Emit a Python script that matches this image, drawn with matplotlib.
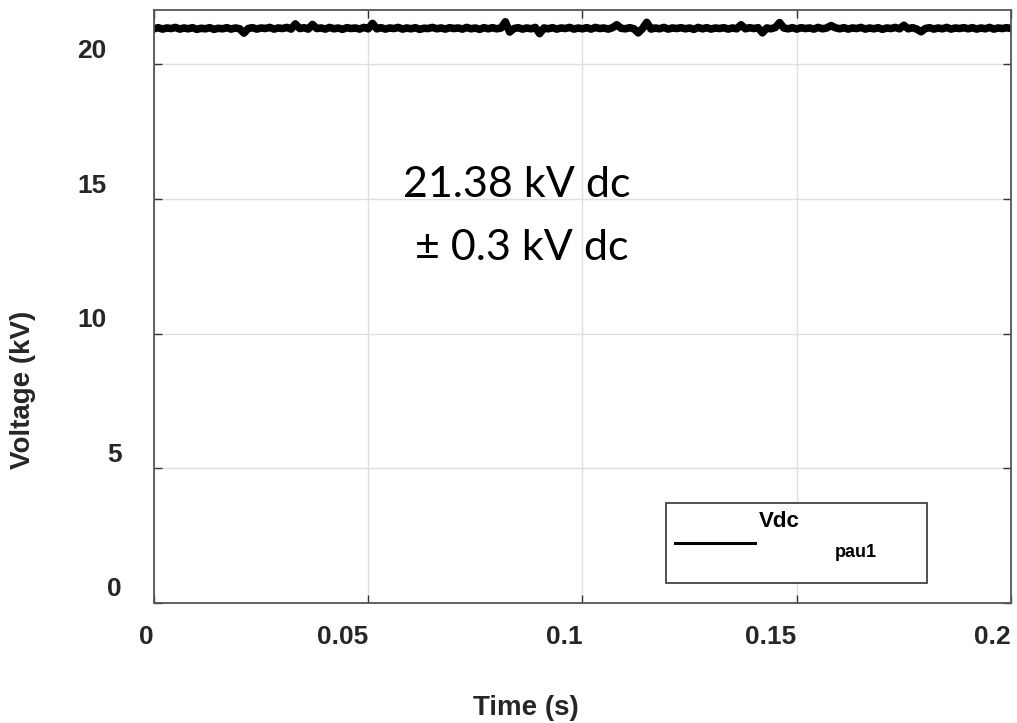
import numpy as np
import matplotlib
matplotlib.use('Agg')
from matplotlib import pyplot as plt
import matplotlib.transforms as mtransforms
from matplotlib.patches import Rectangle
from matplotlib.lines import Line2D

plt.rcParams['font.family'] = ['Liberation Sans', 'DejaVu Sans']

# dc link voltage (kV), one sample per ms
vdc = [21.32, 21.36, 21.31, 21.35, 21.33, 21.37, 21.31, 21.35, 21.32, 21.36,
       21.30, 21.34, 21.32, 21.36, 21.30, 21.34, 21.32, 21.36, 21.31, 21.35,
       21.32, 21.16, 21.33, 21.36, 21.31, 21.35, 21.33, 21.37, 21.31, 21.35,
       21.33, 21.37, 21.31, 21.50, 21.33, 21.36, 21.31, 21.48, 21.33, 21.35,
       21.31, 21.37, 21.32, 21.35, 21.30, 21.36, 21.33, 21.35, 21.31, 21.37,
       21.32, 21.52, 21.32, 21.36, 21.31, 21.35, 21.33, 21.37, 21.31, 21.35,
       21.32, 21.36, 21.30, 21.34, 21.33, 21.37, 21.32, 21.35, 21.31, 21.36,
       21.33, 21.35, 21.31, 21.37, 21.32, 21.35, 21.30, 21.36, 21.32, 21.36,
       21.32, 21.35, 21.58, 21.20, 21.33, 21.36, 21.31, 21.35, 21.32, 21.37,
       21.14, 21.35, 21.32, 21.36, 21.31, 21.35, 21.33, 21.37, 21.31, 21.35,
       21.32, 21.36, 21.31, 21.37, 21.33, 21.35, 21.31, 21.36, 21.47, 21.34,
       21.32, 21.36, 21.32, 21.17, 21.33, 21.56, 21.31, 21.35, 21.32, 21.37,
       21.31, 21.35, 21.33, 21.36, 21.32, 21.35, 21.30, 21.37, 21.32, 21.36,
       21.31, 21.35, 21.33, 21.36, 21.31, 21.35, 21.32, 21.47, 21.32, 21.36,
       21.33, 21.36, 21.17, 21.35, 21.32, 21.37, 21.55, 21.35, 21.32, 21.36,
       21.31, 21.36, 21.33, 21.35, 21.31, 21.37, 21.32, 21.35, 21.44, 21.36,
       21.32, 21.36, 21.31, 21.35, 21.33, 21.37, 21.31, 21.35, 21.32, 21.36,
       21.30, 21.35, 21.33, 21.37, 21.32, 21.45, 21.32, 21.36, 21.31, 21.21,
       21.33, 21.36, 21.31, 21.35, 21.32, 21.37, 21.31, 21.35, 21.33, 21.36,
       21.32, 21.36, 21.31, 21.35, 21.32, 21.37, 21.31, 21.35, 21.33, 21.36,
       21.33]
t = np.linspace(0, 0.2, len(vdc))

xticks = [0, 0.05, 0.1, 0.15, 0.2]
xticklabels = ['0', '0.05', '0.1', '0.15', '0.2']
yticks = [0, 5, 10, 15, 20]
yticklabels = ['0', '5', '10', '15', '20']

txtc = '#262626'

fig = plt.figure(figsize=(10.17, 7.23), dpi=100)
ax = fig.add_axes([0.1514, 0.166, 0.8427, 0.8195])

ax.plot(t, vdc, color='k', lw=5.5, solid_joinstyle='round')

ax.set_xlim(0, 0.2)
ax.set_ylim(0, 22)
ax.set_xticks(xticks)
ax.set_xticklabels(xticklabels, ha='right')
ax.set_yticks(yticks)
ax.set_yticklabels(yticklabels, ha='right')
ax.grid(True, color='#dedede', lw=1)
ax.set_axisbelow(True)
ax.tick_params(direction='in', length=6, width=1, colors='#333333',
               top=True, right=True, labelsize=19, labelcolor=txtc)
ax.tick_params(axis='x', pad=16)
ax.tick_params(axis='y', pad=34)
for lab in ax.get_xticklabels() + ax.get_yticklabels():
    lab.set_fontweight('bold')
for s in ax.spines.values():
    s.set_color('#555555')
    s.set_linewidth(1.3)

# shift the y tick labels as in the original export
for lab in ax.get_yticklabels():
    dx = 15 / 100 if len(lab.get_text()) == 1 else 0
    lab.set_transform(lab.get_transform() +
                      mtransforms.ScaledTranslation(dx, 16 / 100, fig.dpi_scale_trans))

ax.set_xlabel('Time (s)', fontsize=20, fontweight='bold', color=txtc)
ax.xaxis.set_label_coords(0.434, -0.177)
ax.xaxis.label.set_va('center')
ax.set_ylabel('Voltage (kV)', fontsize=20, fontweight='bold', color=txtc)
ax.yaxis.set_label_coords(-0.1529, 0.3595)
ax.yaxis.label.set_va('center')
ax.yaxis.label.set_rotation_mode('anchor')

ax.text(0.0846, 15.06, '21.38 kV dc', ha='center', va='baseline',
        fontsize=31, family='Lato', color='k')
ax.text(0.0859, 12.73, '\u00b1 0.3 kV dc', ha='center', va='baseline',
        fontsize=31, family='Lato', color='k')

# legend box
ax.add_patch(Rectangle((0.5974, 0.0338), 0.3046, 0.135, transform=ax.transAxes,
                       facecolor='white', edgecolor='#333333', lw=1.2, zorder=5))
ax.add_line(Line2D([0.6085, 0.7008], [0.1012, 0.1012], transform=ax.transAxes,
                   color='k', lw=2.2, zorder=6))
ax.text(0.7293, 0.1367, 'Vdc', transform=ax.transAxes, ha='center', va='center',
        fontsize=16, fontweight='bold', color='k', zorder=6)
ax.text(0.8191, 0.0844, 'pau1', transform=ax.transAxes, ha='center', va='center',
        fontsize=13, fontweight='bold', color='k', zorder=6)

fig.savefig('out.png', dpi=100)
